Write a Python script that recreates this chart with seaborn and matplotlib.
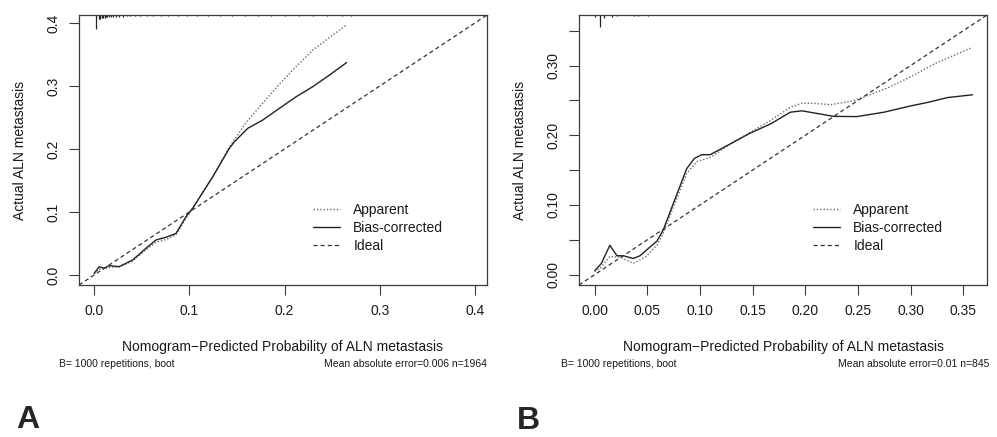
import numpy as np
import pandas as pd
import matplotlib
matplotlib.use("Agg")
import matplotlib.pyplot as plt
import matplotlib.transforms as mtransforms
import seaborn as sns

# ---------------- data ----------------
# Panel A
a_bias_x = [0.0, 0.0053, 0.0105, 0.0158, 0.0263, 0.0404, 0.0544, 0.065, 0.0754, 0.086,
            0.0965, 0.1035, 0.1246, 0.142, 0.1474, 0.1614, 0.1772, 0.1947, 0.2123, 0.2298,
            0.2474, 0.265]
a_bias_y = [0.0026, 0.013, 0.0106, 0.0148, 0.0132, 0.0238, 0.0423, 0.0556, 0.0598, 0.066,
            0.0926, 0.106, 0.156, 0.201, 0.2116, 0.2328, 0.246, 0.2646, 0.283, 0.299,
            0.3175, 0.337]
a_app_x = [0.0, 0.005, 0.0105, 0.0158, 0.0263, 0.0404, 0.0544, 0.065, 0.0754, 0.086,
           0.0965, 0.1035, 0.1246, 0.142, 0.1474, 0.1596, 0.1772, 0.1947, 0.2123, 0.2298,
           0.2474, 0.265]
a_app_y = [0.002, 0.009, 0.010, 0.012, 0.013, 0.022, 0.040, 0.052, 0.056, 0.064,
           0.090, 0.106, 0.156, 0.203, 0.215, 0.242, 0.273, 0.303, 0.331, 0.357,
           0.377, 0.397]
a_lim = [-0.0159, 0.4125]
a_xticks = [0.0, 0.1, 0.2, 0.3, 0.4]
a_xticklabels = ["0.0", "0.1", "0.2", "0.3", "0.4"]
a_yticks = [0.0, 0.1, 0.2, 0.3, 0.4]
a_yticklabels = ["0.0", "0.1", "0.2", "0.3", "0.4"]
a_rug_x = [0.0024, 0.0050, 0.0065, 0.0080, 0.0095, 0.011, 0.0125, 0.014, 0.016, 0.018,
           0.020, 0.023, 0.026, 0.030, 0.034, 0.038, 0.043, 0.048, 0.055, 0.062, 0.070,
           0.078, 0.088, 0.098, 0.108, 0.120, 0.132, 0.145, 0.158, 0.172, 0.186, 0.200,
           0.215, 0.230, 0.245, 0.260, 0.270]
a_rug_h = [0.052, 0.015, 0.013, 0.012, 0.011, 0.010, 0.009, 0.008, 0.008, 0.007,
           0.007, 0.006, 0.006, 0.006, 0.005, 0.005, 0.005, 0.005, 0.004, 0.004, 0.004,
           0.004, 0.004, 0.004, 0.004, 0.004, 0.004, 0.004, 0.004, 0.004, 0.004, 0.004,
           0.004, 0.004, 0.004, 0.004, 0.004]
a_sub_left = "B= 1000 repetitions, boot"
a_sub_right = "Mean absolute error=0.006 n=1964"

# Panel B
b_bias_x = [0.0, 0.0063, 0.0143, 0.021, 0.027, 0.0365, 0.043, 0.049, 0.059, 0.065, 0.0746,
            0.0873, 0.0946, 0.1016, 0.1095, 0.1317, 0.1476, 0.1667, 0.1857, 0.1968, 0.208,
            0.227, 0.249, 0.2746, 0.300, 0.316, 0.335, 0.3587]
b_bias_y = [0.0057, 0.016, 0.042, 0.027, 0.027, 0.023, 0.027, 0.035, 0.048, 0.064, 0.102,
            0.152, 0.1667, 0.172, 0.172, 0.190, 0.203, 0.216, 0.233, 0.235, 0.232,
            0.227, 0.2267, 0.233, 0.242, 0.247, 0.254, 0.258]
b_app_x = [0.0, 0.0063, 0.0143, 0.024, 0.0365, 0.049, 0.059, 0.065, 0.0746, 0.0873, 0.0968,
           0.1095, 0.1317, 0.1476, 0.1667, 0.1857, 0.1968, 0.208, 0.224, 0.246, 0.2587,
           0.2778, 0.300, 0.322, 0.357]
b_app_y = [0.004, 0.011, 0.026, 0.025, 0.016, 0.026, 0.042, 0.059, 0.097, 0.145, 0.162,
           0.168, 0.190, 0.204, 0.221, 0.240, 0.246, 0.2457, 0.2438, 0.2495, 0.2567,
           0.2676, 0.2838, 0.302, 0.325]
b_lim = [-0.0150, 0.3725]
b_xticks = [0.0, 0.05, 0.10, 0.15, 0.20, 0.25, 0.30, 0.35]
b_xticklabels = ["0.00", "0.05", "0.10", "0.15", "0.20", "0.25", "0.30", "0.35"]
b_yticks = [0.0, 0.05, 0.10, 0.15, 0.20, 0.25, 0.30, 0.35]
b_yticklabels = ["0.00", "", "0.10", "", "0.20", "", "0.30", ""]
b_rug_x = [0.0, 0.0045, 0.009, 0.016, 0.021, 0.037, 0.041, 0.051]
b_rug_h = [0.007, 0.044, 0.011, 0.006, 0.005, 0.005, 0.005, 0.004]
b_sub_left = "B= 1000 repetitions, boot"
b_sub_right = "Mean absolute error=0.01 n=845"

series_labels = ["Apparent", "Bias-corrected", "Ideal"]
xlabel_text = "Nomogram\u2212Predicted Probability of ALN metastasis"
ylabel_text = "Actual ALN metastasis"
panel_labels = ["A", "B"]

# ---------------- style ----------------
sns.set_theme(style="white")
plt.rcParams["font.family"] = ["Liberation Sans", "DejaVu Sans"]
plt.rcParams["axes.edgecolor"] = "#3a3a3a"
plt.rcParams["axes.linewidth"] = 0.9

fig = plt.figure(figsize=(9.97, 4.37), dpi=100)
W, H = 997.0, 437.0

def px_axes(l, t, r, b):
    return fig.add_axes([l / W, 1 - b / H, (r - l) / W, (b - t) / H])

ax_a = px_axes(79, 15, 487, 285)
ax_b = px_axes(579, 15, 987, 285)

panels = [
    (ax_a, a_app_x, a_app_y, a_bias_x, a_bias_y, a_lim, a_xticks, a_xticklabels,
     a_yticks, a_yticklabels, a_rug_x, a_rug_h, a_sub_left, a_sub_right, 59, 487),
    (ax_b, b_app_x, b_app_y, b_bias_x, b_bias_y, b_lim, b_xticks, b_xticklabels,
     b_yticks, b_yticklabels, b_rug_x, b_rug_h, b_sub_left, b_sub_right, 561, 989),
]

for i, (ax, ax_x, ax_y, bx, by, lim, xt, xtl, yt, ytl, rx, rh, subl, subr, sl, sr) in enumerate(panels):
    sns.lineplot(x=ax_x, y=ax_y, ax=ax, sort=False, estimator=None, color="#6a6a6a",
                 linewidth=1.0, linestyle=(0, (1, 1.4)), label=series_labels[0])
    sns.lineplot(x=bx, y=by, ax=ax, sort=False, estimator=None, color="#222222",
                 linewidth=1.0, label=series_labels[1])
    sns.lineplot(x=lim, y=lim, ax=ax, sort=False, estimator=None, color="#333333",
                 linewidth=0.9, linestyle=(0, (3.3, 2.4)), label=series_labels[2])
    # rug / spike histogram at top
    trans = mtransforms.blended_transform_factory(ax.transData, ax.transAxes)
    ax.vlines(rx, [1 - h for h in rh], 1.0, transform=trans, color="#222222", linewidth=0.9)

    ax.set_xlim(lim)
    ax.set_ylim(lim)
    ax.set_xticks(xt)
    ax.set_xticklabels(xtl)
    ax.set_yticks(yt)
    ax.set_yticklabels(ytl, rotation=90, va="center")
    ax.tick_params(axis="both", which="major", direction="out", length=7, width=0.8,
                   color="#3a3a3a", labelsize=10, labelcolor="#1a1a1a", bottom=True, left=True)
    ax.tick_params(axis="x", pad=7)
    ax.tick_params(axis="y", pad=6)
    ax.set_xlabel(xlabel_text, fontsize=10, color="#1a1a1a")
    ax.set_ylabel(ylabel_text, fontsize=10, color="#1a1a1a")
    ax.xaxis.set_label_coords(0.5, -(340 - 285) / 270.0)
    ax.yaxis.set_label_coords(-(79 - 27) / 408.0, 0.5)
    for sp in ax.spines.values():
        sp.set_visible(True)

    leg = ax.legend(loc="upper left", bbox_to_anchor=((313 - 79) / 408.0, (285 - 203) / 270.0),
                    frameon=False, fontsize=10, handlelength=1.95, handletextpad=0.95,
                    labelspacing=0.3, borderpad=0, borderaxespad=0)
    for t in leg.get_texts():
        t.set_color("#1a1a1a")

    fig.text(sl / W, 1 - 364 / H, subl, fontsize=7.5, ha="left", va="center", color="#1a1a1a")
    fig.text(sr / W, 1 - 364 / H, subr, fontsize=7.5, ha="right", va="center", color="#1a1a1a")

lab_family = ["Liberation Sans Narrow", "Liberation Sans", "DejaVu Sans"]
fig.text(16 / W, 1 - 428 / H, panel_labels[0], fontsize=23, fontweight="bold",
         family=lab_family, ha="left", va="baseline")
fig.text(517 / W, 1 - 429 / H, panel_labels[1], fontsize=23, fontweight="bold",
         family=lab_family, ha="left", va="baseline")

fig.savefig("out.png", dpi=100)
